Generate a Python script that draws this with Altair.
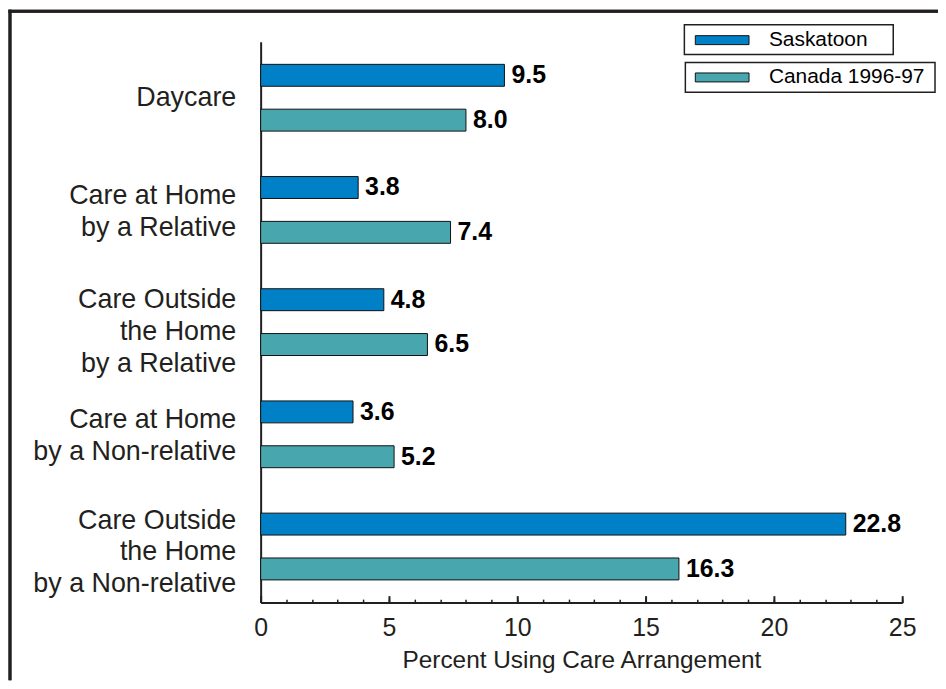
import altair as alt
import pandas as pd

categories = [
    "Daycare",
    "Care at Home|by a Relative",
    "Care Outside|the Home|by a Relative",
    "Care at Home|by a Non-relative",
    "Care Outside|the Home|by a Non-relative",
]
series = ["Saskatoon", "Canada 1996-97"]
saskatoon = [9.5, 3.8, 4.8, 3.6, 22.8]
canada = [8.0, 7.4, 6.5, 5.2, 16.3]
colors = ["#0080C6", "#48A6AF"]
major_ticks = [0, 5, 10, 15, 20, 25]
minor_ticks = list(range(0, 26))

rows = []
for c, s, k in zip(categories, saskatoon, canada):
    rows.append({"category": c, "series": series[0], "value": s})
    rows.append({"category": c, "series": series[1], "value": k})
df = pd.DataFrame(rows)
leg_df = pd.DataFrame({"series": series})

FONT = "Liberation Sans"
INK = "#231f20"
W, H = 645, 564

color_scale = alt.Scale(domain=series, range=colors)
nlines = "length(split(datum.value, '|'))"
y_enc_axis = alt.Y(
    "category:N", sort=categories,
    scale=alt.Scale(paddingInner=0, paddingOuter=0),
    axis=alt.Axis(
        title=None, ticks=False, tickSize=0, labelPadding=25,
        labelExpr="split(datum.label, '|')",
        labelOffset={"condition": [
            {"test": "datum.value == 'Care Outside|the Home|by a Relative'", "value": -22},
            {"test": nlines + " == 3", "value": -26},
            {"test": nlines + " == 2", "value": -14},
        ], "value": 0},
        labelFontSize=27, labelLineHeight=32, labelColor=INK, labelFont=FONT,
        domainColor=INK, domainWidth=2, labelLimit=400,
    ),
)
y_plain = alt.Y("category:N", sort=categories,
                scale=alt.Scale(paddingInner=0, paddingOuter=0), axis=None)
yoff = alt.YOffset("series:N", sort=series,
                   scale=alt.Scale(paddingInner=0.511, paddingOuter=0.5066))

x_scale = alt.Scale(domain=[0, 25], nice=False)

base = alt.Chart(df)

bars = base.mark_bar(stroke="#111111", strokeWidth=1).encode(
    x=alt.X("value:Q", scale=x_scale, axis=alt.Axis(
        values=major_ticks, ticks=False, grid=False, title="Percent Using Care Arrangement",
        labelFontSize=25, labelFont=FONT, labelColor=INK, labelPadding=13,
        titleFontSize=24.5, titleFont=FONT, titleColor=INK, titleFontWeight="normal",
        titlePadding=8, domainColor=INK, domainWidth=2, labelFlush=False,
    )),
    y=y_enc_axis,
    yOffset=yoff,
    color=alt.Color("series:N", scale=color_scale, legend=None),
)

labels = base.mark_text(align="left", baseline="middle", dx=7, fontSize=25,
                        fontWeight="bold", font=FONT, color="#000000").encode(
    x=alt.X("value:Q", scale=x_scale, axis=alt.Axis(
        orient="top", offset=-H, values=major_ticks, labels=False, domain=False,
        grid=False, ticks=True, tickSize=7, tickColor=INK, tickWidth=2, title=None)),
    y=y_plain,
    yOffset=yoff,
    text=alt.Text("value:Q", format=".1f"),
)

minor = base.mark_point(opacity=0).encode(
    x=alt.X("value:Q", scale=x_scale, axis=alt.Axis(
        orient="top", offset=-H, values=minor_ticks, labels=False, domain=False,
        grid=False, ticks=True, tickSize=3.5, tickColor=INK, tickWidth=1.5, title=None)),
    y=y_plain,
)

# legend boxes (two separate framed entries)
def legend_entry(name, box, sw_y, txt_y):
    src = alt.Chart(leg_df).transform_filter(alt.datum.series == name)
    frame = src.mark_rect(fill="white", stroke=INK, strokeWidth=1.5).encode(
        x=alt.value(box[0]), x2=alt.value(box[1]),
        y=alt.value(box[2]), y2=alt.value(box[3]))
    swatch = src.mark_rect(stroke="#111111", strokeWidth=1).encode(
        x=alt.value(437), x2=alt.value(491),
        y=alt.value(sw_y - 4.5), y2=alt.value(sw_y + 4.5),
        color=alt.Color("series:N", scale=color_scale, legend=None))
    text = src.mark_text(align="left", baseline="middle", fontSize=21,
                         font=FONT, color="#000000").encode(
        x=alt.value(511), y=alt.value(txt_y), text="series:N")
    return [frame, swatch, text]

leg1 = legend_entry(series[0], (426, 636, -17, 13), -1.5, -1.5)
leg2 = legend_entry(series[1], (427, 678, 21, 51), 36, 36)

frame_left = alt.Chart(leg_df).mark_rule(color=INK, strokeWidth=3).encode(
    x=alt.value(-252), y=alt.value(-32), y2=alt.value(H + 78))
frame_top = alt.Chart(leg_df).mark_rule(color=INK, strokeWidth=3).encode(
    x=alt.value(-253.5), x2=alt.value(700), y=alt.value(-30.5))

chart = alt.layer(
    bars, labels, minor, *leg1, *leg2, frame_left, frame_top
).resolve_axis(x="independent", y="independent").properties(
    width=W, height=H,
    padding={"left": 254, "top": 32, "right": 36, "bottom": 77},
    autosize=alt.AutoSizeParams(type="none"),
    background="white",
).configure_view(stroke=None)

chart.save("out.html", embed_options={"renderer": "svg", "actions": False})
